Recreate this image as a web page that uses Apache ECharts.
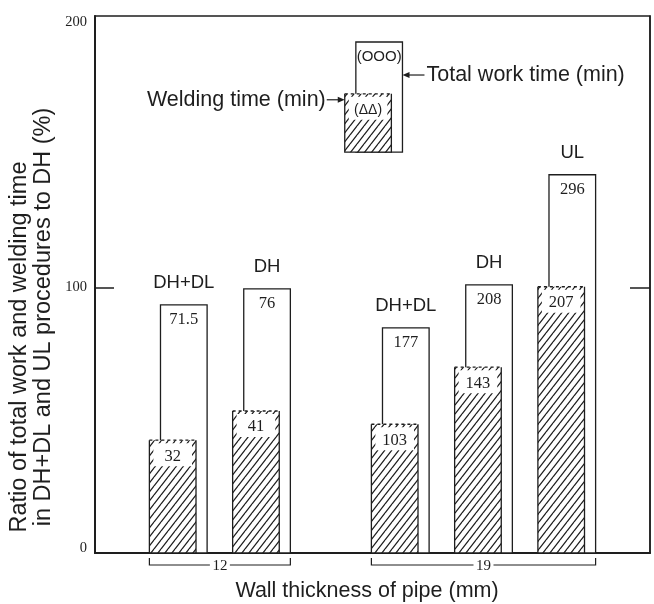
<!DOCTYPE html>
<html><head><meta charset="utf-8">
<script src="https://cdn.jsdelivr.net/npm/echarts@6/dist/echarts.min.js"></script>
<style>html,body{margin:0;padding:0;background:#fff}#c{width:654px;height:604px}</style>
</head><body><div id="c"></div>
<script>
// ---------------- data ----------------
const groups = ['12', '19'];                                // wall thickness (mm)
const procedures = ['DH+DL', 'DH', 'DH+DL', 'DH', 'UL'];
const barGroup = [0, 0, 1, 1, 1];
const totalRatio = [93.5, 99.5, 84.8, 101.0, 142.5];         // % of DH
const weldingRatio = [42.5, 53.5, 48.5, 70.0, 100.3];        // % of DH
const totalMinutes = ['71.5', '76', '177', '208', '296'];
const weldingMinutes = ['32', '41', '103', '143', '207'];
const legendValues = [151, 192.5, 173];                      // base, total top, welding top
const yTickLabels = [0, 100, 200];

// ---------------- layout (x axis units 0..100) ----------------
const barX = [16, 31, 56, 71, 86];
const legendX = 51.2;
const barW = 8.4;
const weldOffset = -2;

const INK = '#1e1e1e';
const SANS = '"Liberation Sans", Arial, sans-serif';
const SERIF = '"Liberation Serif", "Times New Roman", serif';

// hatch pattern
const hatch = (function () {
  const w = 7, h = 9;
  const c = document.createElement('canvas');
  c.width = w; c.height = h;
  const ctx = c.getContext('2d');
  ctx.fillStyle = '#fff'; ctx.fillRect(0, 0, w, h);
  ctx.strokeStyle = INK; ctx.lineWidth = 1.25;
  ctx.beginPath();
  ctx.moveTo(0, h); ctx.lineTo(w, 0);
  ctx.moveTo(-w, h); ctx.lineTo(0, 0);
  ctx.moveTo(w, 2 * h); ctx.lineTo(2 * w, h);
  ctx.moveTo(0, 2 * h); ctx.lineTo(2 * w, 0);
  ctx.moveTo(-w, 2 * h); ctx.lineTo(w, 0);
  ctx.stroke();
  return { image: c, repeat: 'repeat' };
})();

function rectOf(xc, y0, y1, api) {
  const p0 = api.coord([xc - barW / 2, y0]);
  const p1 = api.coord([xc + barW / 2, y1]);
  return { x: p0[0], y: p1[1], width: p1[0] - p0[0], height: p0[1] - p1[1] };
}
function txt(text, x, y, font, align, extra) {
  return Object.assign({ type: 'text', style: {
    text: text, x: x, y: y, font: font, fill: INK,
    align: align || 'center', verticalAlign: 'middle',
    textAlign: align || 'center', textVerticalAlign: 'middle'
  } }, extra || {});
}
function totalShapes(r, label) {
  return [
    { type: 'rect', shape: r, style: { fill: '#fff', stroke: INK, lineWidth: 1.3 } },
    txt(label, r.x + r.width / 2, r.y + 15, '16.5px ' + SERIF)
  ];
}
function weldingShapes(r, label, font) {
  return [
    { type: 'rect', shape: r, style: { fill: hatch } },
    { type: 'polyline', shape: { points: [[r.x, r.y], [r.x, r.y + r.height], [r.x + r.width, r.y + r.height], [r.x + r.width, r.y]] },
      style: { fill: null, stroke: INK, lineWidth: 1.3 } },
    { type: 'line', shape: { x1: r.x, y1: r.y, x2: r.x + r.width, y2: r.y }, style: { stroke: INK, lineWidth: 1.3, lineDash: [3, 3] } },
    { type: 'rect', shape: { x: r.x + 4, y: r.y + 3, width: r.width - 8, height: 23 }, style: { fill: '#fff' } },
    txt(label, r.x + r.width / 2, r.y + 16, font)
  ];
}
function arrow(x1, y, x2) {
  const d = Math.sign(x2 - x1);
  return [
    { type: 'line', shape: { x1: x1, y1: y, x2: x2 - d * 4, y2: y }, style: { stroke: INK, lineWidth: 1.2 } },
    { type: 'polygon', shape: { points: [[x2, y], [x2 - d * 7, y - 3], [x2 - d * 7, y + 3]] }, style: { fill: INK } }
  ];
}

const totalData = totalRatio.map((v, i) => [barX[i], v, i]);
const weldingData = weldingRatio.map((v, i) => [barX[i] + weldOffset, v, i]);
const bracketData = groups.map((g, gi) => {
  const idx = barGroup.map((b, i) => b === gi ? i : -1).filter(i => i >= 0);
  return [barX[idx[0]] + weldOffset - barW / 2, barX[idx[idx.length - 1]] + barW / 2, gi];
});

const chart = echarts.init(document.getElementById('c'), null, { renderer: 'canvas' });
chart.setOption({
  backgroundColor: '#fff',
  animation: false,
  grid: { left: 95, right: 4, top: 16, bottom: 51, show: true, borderColor: INK, borderWidth: 1.5,
          containLabel: false, outerBoundsMode: 'none' },
  xAxis: {
    type: 'value', min: 0, max: 100,
    axisLine: { show: true, onZero: false, lineStyle: { color: INK, width: 2 } },
    axisTick: { show: false }, axisLabel: { show: false }, splitLine: { show: false },
    name: 'Wall thickness of pipe (mm)', nameLocation: 'middle', nameGap: 27,
    nameTextStyle: { fontFamily: SANS, fontSize: 21.5, color: INK, padding: [0, 11, 0, 0] }
  },
  yAxis: [{
    type: 'value', min: 0, max: 202.3, interval: 100, position: 'left',
    axisLine: { show: true, lineStyle: { color: INK, width: 2 } },
    axisTick: { show: true, inside: true, length: 19, customValues: [100], lineStyle: { color: INK, width: 1.5 } },
    axisLabel: {
      customValues: yTickLabels, margin: 8, fontFamily: SERIF, fontSize: 14.5, color: INK,
      formatter: v => (v % 100 === 0 ? (v === 0 ? '{z|0}' : String(v)) : ''),
      rich: { z: { fontFamily: SERIF, fontSize: 14.5, color: INK, padding: [0, 0, 10, 0] } }
    },
    splitLine: { show: false }
  }, {
    type: 'value', min: 0, max: 202.3, interval: 100, position: 'right',
    axisLine: { show: true, lineStyle: { color: INK, width: 1.5 } },
    axisTick: { show: true, inside: true, length: 20, customValues: [100], lineStyle: { color: INK, width: 1.5 } },
    axisLabel: { show: false }, splitLine: { show: false }
  }],
  graphic: [
    { type: 'text', x: 20, y: 347, rotation: Math.PI / 2,
      style: { text: 'Ratio of total work and welding time', font: '23.5px ' + SANS, fill: INK,
               align: 'center', verticalAlign: 'middle', textAlign: 'center', textVerticalAlign: 'middle' } },
    { type: 'text', x: 44, y: 317, rotation: Math.PI / 2,
      style: { text: 'in DH+DL and UL procedures to DH (%)', font: '23.5px ' + SANS, fill: INK,
               align: 'center', verticalAlign: 'middle', textAlign: 'center', textVerticalAlign: 'middle' } }
  ],
  series: [
    {
      name: 'Total work time', type: 'custom', clip: false, data: totalData,
      renderItem: function (params, api) {
        const i = api.value(2);
        const r = rectOf(api.value(0), 0, api.value(1), api);
        const ch = totalShapes(r, totalMinutes[i]);
        ch.push(txt(procedures[i], r.x + r.width / 2, r.y - 22, '18.5px ' + SANS));
        return { type: 'group', children: ch };
      }
    },
    {
      name: 'Welding time', type: 'custom', clip: false, data: weldingData,
      renderItem: function (params, api) {
        const i = api.value(2);
        const r = rectOf(api.value(0), 0, api.value(1), api);
        return { type: 'group', children: weldingShapes(r, weldingMinutes[i], '16.5px ' + SERIF) };
      }
    },
    {
      name: 'Key', type: 'custom', clip: false, data: [[legendX].concat(legendValues)],
      renderItem: function (params, api) {
        const xc = api.value(0), base = api.value(1), tTop = api.value(2), wTop = api.value(3);
        const rt = rectOf(xc, base, tTop, api);
        const rw = rectOf(xc + weldOffset, base, wTop, api);
        let ch = totalShapes(rt, '(OOO)');
        ch[1].style.font = '15px ' + SANS;
        ch = ch.concat(weldingShapes(rw, '(ΔΔ)', '14px ' + SANS));
        const wy = rw.y + 6;
        ch.push(txt('Welding time (min)', rw.x - 19, wy, '21.5px ' + SANS, 'right'));
        ch = ch.concat(arrow(rw.x - 18, wy, rw.x));
        const tx = rt.x + rt.width, ty = rt.y + 33;
        ch.push(txt('Total work time (min)', tx + 24, ty, '21.5px ' + SANS, 'left'));
        ch = ch.concat(arrow(tx + 22, ty, tx));
        return { type: 'group', children: ch };
      }
    },
    {
      name: 'Groups', type: 'custom', clip: false, data: bracketData,
      renderItem: function (params, api) {
        const a = api.coord([api.value(0), 0]), b = api.coord([api.value(1), 0]);
        const y = a[1] + 12, mid = (a[0] + b[0]) / 2, gap = 10;
        return { type: 'group', children: [
          { type: 'polyline', shape: { points: [[a[0], y - 7], [a[0], y], [mid - gap, y]] }, style: { fill: null, stroke: INK, lineWidth: 1.2 } },
          { type: 'polyline', shape: { points: [[mid + gap, y], [b[0], y], [b[0], y - 7]] }, style: { fill: null, stroke: INK, lineWidth: 1.2 } },
          txt(groups[api.value(2)], mid, y + 1, '15px ' + SERIF)
        ] };
      }
    }
  ]
});
</script></body></html>
